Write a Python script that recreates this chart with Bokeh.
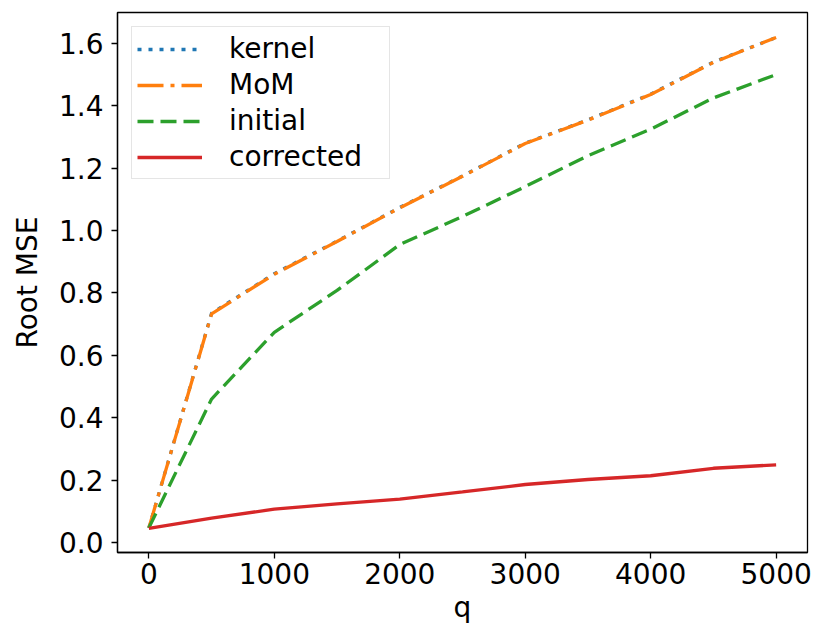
from bokeh.plotting import figure
from bokeh.models import FixedTicker, PrintfTickFormatter, Legend, LegendItem, Range1d
from bokeh.embed import file_html
from bokeh.resources import INLINE

q = [0, 500, 1000, 1500, 2000, 2500, 3000, 3500, 4000, 4500, 5000]
kernel = [0.047, 0.735, 0.862, 0.966, 1.074, 1.175, 1.280, 1.355, 1.437, 1.540, 1.619]
mom = [0.047, 0.733, 0.860, 0.965, 1.073, 1.174, 1.279, 1.354, 1.436, 1.539, 1.619]
initial = [0.047, 0.460, 0.674, 0.808, 0.955, 1.045, 1.141, 1.240, 1.325, 1.425, 1.500]
corrected = [0.045, 0.078, 0.107, 0.124, 0.139, 0.162, 0.186, 0.202, 0.214, 0.238, 0.249]

x_ticks = [0, 1000, 2000, 3000, 4000, 5000]
y_ticks = [0.0, 0.2, 0.4, 0.6, 0.8, 1.0, 1.2, 1.4, 1.6]

FONT = "DejaVu Sans"
FS = "28px"

p = figure(frame_width=690, frame_height=540,
           min_border_left=117, min_border_right=16, min_border_top=12, min_border_bottom=69,
           x_range=Range1d(-250, 5250), y_range=Range1d(-0.032, 1.699),
           output_backend="svg", toolbar_location=None)

p.xgrid.visible = False
p.ygrid.visible = False
p.outline_line_color = "black"
p.outline_line_width = 1.3
p.background_fill_color = "white"
p.border_fill_color = "white"

for ax in (p.xaxis[0], p.yaxis[0]):
    ax.major_label_text_font = FONT
    ax.major_label_text_font_size = FS
    ax.major_label_text_color = "black"
    ax.axis_label_text_font = FONT
    ax.axis_label_text_font_size = FS
    ax.axis_label_text_font_style = "normal"
    ax.axis_label_text_color = "black"
    ax.major_tick_in = 0
    ax.major_tick_out = 6
    ax.major_tick_line_width = 1.3
    ax.major_tick_line_color = "black"
    ax.minor_tick_line_color = None
    ax.axis_line_color = "black"
    ax.axis_line_width = 1.3

p.xaxis.ticker = FixedTicker(ticks=x_ticks)
p.yaxis.ticker = FixedTicker(ticks=y_ticks)
p.yaxis.formatter = PrintfTickFormatter(format="%.1f")
p.xaxis.axis_label = "q"
p.yaxis.axis_label = "Root MSE"
p.xaxis.major_label_standoff = 4
p.yaxis.major_label_standoff = 8
p.xaxis.axis_label_standoff = 4
p.yaxis.axis_label_standoff = 12

lw = 3.3
r1 = p.line(q, kernel, color="#1f77b4", line_width=lw, line_dash="4 7", line_cap="butt")
r2 = p.line(q, mom, color="#ff7f0e", line_width=lw, line_dash="26 7 4 7", line_cap="butt")
r3 = p.line(q, initial, color="#2ca02c", line_width=lw, line_dash="16 7", line_cap="butt")
r4 = p.line(q, corrected, color="#d62728", line_width=lw)

legend = Legend(items=[
    LegendItem(label="kernel", renderers=[r1]),
    LegendItem(label="MoM", renderers=[r2]),
    LegendItem(label="initial", renderers=[r3]),
    LegendItem(label="corrected", renderers=[r4]),
], location="top_left")
legend.margin = 14
legend.padding = 5
legend.spacing = 3
legend.glyph_width = 65
legend.glyph_height = 30
legend.label_standoff = 27
legend.label_width = 155
legend.label_text_font = FONT
legend.label_text_font_size = FS
legend.label_text_color = "black"
legend.label_height = 30
legend.border_line_color = "#cccccc"
legend.border_line_width = 1.3
legend.background_fill_alpha = 0.8
p.add_layout(legend)

open("out.html", "w").write(file_html(p, INLINE))
